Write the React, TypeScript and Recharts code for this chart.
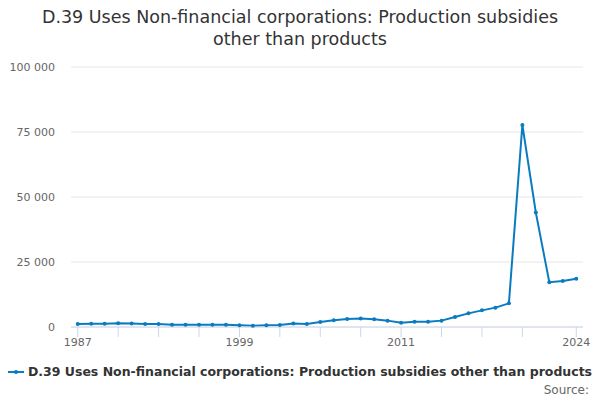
import React from "react";
import {
  CartesianGrid,
  Line,
  LineChart,
  XAxis,
  YAxis,
} from "recharts";

const years = [
  1987, 1988, 1989, 1990, 1991, 1992, 1993, 1994, 1995, 1996, 1997, 1998,
  1999, 2000, 2001, 2002, 2003, 2004, 2005, 2006, 2007, 2008, 2009, 2010,
  2011, 2012, 2013, 2014, 2015, 2016, 2017, 2018, 2019, 2020, 2021, 2022,
  2023, 2024,
];

const subsidies = [
  1150, 1280, 1280, 1400, 1350, 1200, 1150, 900, 900, 900, 900, 900,
  650, 500, 650, 800, 1300, 1200, 1900, 2600, 3100, 3300, 2950, 2450,
  1650, 2050, 2050, 2450, 3850, 5250, 6400, 7450, 9100, 77700, 44000, 17200,
  17700, 18600,
];

const xTicks = [1987, 1990, 1993, 1996, 1999, 2002, 2005, 2008, 2011, 2014, 2017, 2020, 2024];
const xLabels = [1987, 1999, 2011, 2024];
const yTicks = [0, 25000, 50000, 75000, 100000];

const seriesName =
  "D.39 Uses Non-financial corporations: Production subsidies other than products";

const data = years.map((year, i) => ({ year, value: subsidies[i] }));

const BLUE = "#0a7bc1";
const FONT = "'DejaVu Sans', sans-serif";

const fmt = (v: number) => String(v).replace(/\B(?=(\d{3})+(?!\d))/g, " ");

export default function App() {
  return (
    <div
      style={{
        position: "absolute",
        left: 0,
        top: 0,
        width: 600,
        height: 400,
        background: "#fff",
        fontFamily: FONT,
      }}
    >
      <div
        style={{
          position: "absolute",
          top: 6,
          left: 0,
          width: 600,
          textAlign: "center",
          fontSize: 17.5,
          lineHeight: "22px",
          color: "#333",
        }}
      >
        D.39 Uses Non-financial corporations: Production subsidies
        <br />
        other than products
      </div>
      <LineChart
        width={600}
        height={400}
        data={data}
        margin={{ top: 67, right: 17, left: 0, bottom: 43 }}
      >
        <CartesianGrid stroke="#e6e6e6" vertical={false} />
        <XAxis
          dataKey="year"
          type="number"
          domain={[1986.5, 2024.5]}
          ticks={xTicks}
          interval={0}
          height={30}
          tickSize={10}
          tickMargin={1}
          stroke="#ccd6eb"
          tick={{ fill: "#666", fontSize: 11, fontFamily: FONT }}
          tickFormatter={(v) => (xLabels.includes(v) ? String(v) : "")}
        />
        <YAxis
          type="number"
          domain={[0, 100000]}
          ticks={yTicks}
          width={71}
          axisLine={false}
          tickLine={false}
          tickSize={0}
          tickMargin={16}
          tick={{ fill: "#666", fontSize: 11, fontFamily: FONT }}
          tickFormatter={fmt}
        />
        <Line
          type="linear"
          dataKey="value"
          name={seriesName}
          stroke={BLUE}
          strokeWidth={2}
          dot={{ r: 2, fill: BLUE, stroke: BLUE, strokeWidth: 0 }}
          activeDot={false}
          isAnimationActive={false}
        />
      </LineChart>
      <div
        style={{
          position: "absolute",
          top: 364,
          left: 0,
          width: 600,
          display: "flex",
          alignItems: "center",
          justifyContent: "center",
          fontSize: 12.5,
          fontWeight: "bold",
          color: "#333",
          whiteSpace: "nowrap",
        }}
      >
        <svg width={16} height={12} style={{ marginRight: 4 }}>
          <line x1={0} y1={6} x2={16} y2={6} stroke={BLUE} strokeWidth={2} />
          <circle cx={8} cy={6} r={2} fill={BLUE} />
        </svg>
        {seriesName}
      </div>
      <div
        style={{
          position: "absolute",
          top: 383,
          right: 11,
          fontSize: 12,
          color: "#666",
        }}
      >
        Source:
      </div>
    </div>
  );
}
